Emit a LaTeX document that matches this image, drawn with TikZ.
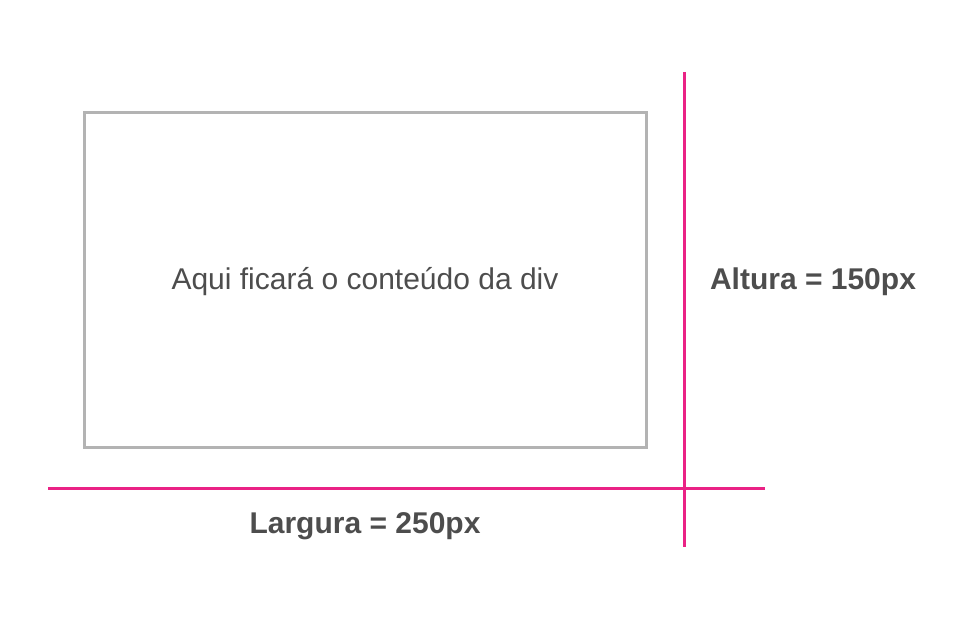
\documentclass[tikz,border=0pt]{standalone}
\usepackage{fontspec}
\setmainfont{Liberation Sans}
\usetikzlibrary{positioning}
\definecolor{guide}{RGB}{234,34,133}
\definecolor{boxgray}{RGB}{179,179,179}
\definecolor{txtgray}{RGB}{77,77,77}

\begin{document}
\begin{tikzpicture}[x=1pt,y=-1pt,
  guideline/.style={draw=guide,line width=3pt},
  label/.style={text=txtgray,font=\fontsize{30}{34}\selectfont\bfseries,inner sep=0pt}]
\useasboundingbox (0,0) rectangle (965,620);
\node[draw=boxgray,line width=3pt,minimum width=562pt,minimum height=334pt](div) at (365,280) {};
\node[text=txtgray,font=\fontsize{30}{34}\selectfont,inner sep=0pt](content) at (365,282) {Aqui ficará o conteúdo da div};
\coordinate(vtop) at (684,72);
\coordinate(vbot) at (684,547);
\coordinate(hleft) at (48,488);
\coordinate(hright) at (765,488);
\draw[guideline] (vtop) -- (vbot);
\draw[guideline] (hleft) -- (hright);
\node[label](altura) at (813,282) {Altura = 150px};
\node[label](largura) at (365,526) {Largura = 250px};
\end{tikzpicture}
\end{document}
